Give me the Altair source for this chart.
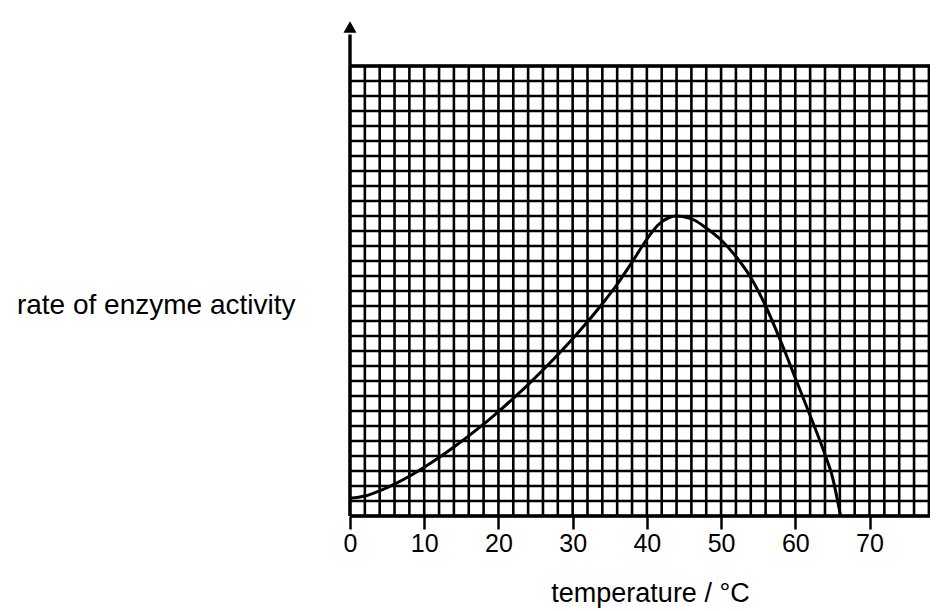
import altair as alt
import pandas as pd

# ---- data ----
temperature = [0, 2, 4, 6, 8, 10, 12, 14, 16, 18, 20, 22, 24, 26, 28, 30, 32, 34, 36, 38,
               40, 41.5, 43, 44, 45, 46.5, 48, 50, 52, 54, 56, 58, 60, 62, 64, 65, 66.1]
rate = [1.18, 1.33, 1.68, 2.13, 2.65, 3.25, 3.9, 4.6, 5.34, 6.12, 6.96, 7.84, 8.76, 9.73,
        10.75, 11.82, 12.95, 14.15, 15.45, 16.92, 18.45, 19.4, 19.9, 20.0, 19.95, 19.7, 19.2,
        18.4, 17.3, 15.9, 14.0, 11.7, 9.2, 6.7, 4.1, 2.6, 0.0]
x_tick_values = [0, 10, 20, 30, 40, 50, 60, 70]
x_grid_values = list(range(0, 79, 2))
y_grid_values = list(range(0, 31))
frame_y_values = [0, 30]

X_MAX = 78.15
Y_MAX = 33
GRID_TOP = 30
AXIS_TOP = 32.1
ARROW_Y = 32.6

FONT = "Liberation Sans"

xs = alt.Scale(domain=[0, X_MAX], nice=False, zero=False)
ys = alt.Scale(domain=[0, Y_MAX], nice=False, zero=False)

x_axis = alt.Axis(
    values=x_tick_values, format="d", tickSize=13, tickWidth=2.5, tickColor="black",
    labelFontSize=25, labelFont=FONT, labelColor="black", labelPadding=2,
    labelFlush=False, labelOverlap=False, domain=False, grid=False,
    title="temperature / °C", titleFont=FONT, titleFontSize=27, titleFontWeight="normal",
    titleColor="black", titleX=300, titleY=85, titleAlign="center",
    titleBaseline="alphabetic",
)
y_axis = alt.Axis(
    labels=False, ticks=False, domain=False, grid=False,
    title="rate of enzyme activity", titleFont=FONT, titleFontSize=28,
    titleFontWeight="normal", titleColor="black", titleAngle=0,
    titleX=-55, titleY=292, titleAlign="right", titleBaseline="alphabetic",
)

hgrid = pd.DataFrame({"y": y_grid_values, "x0": 0.0, "x1": X_MAX})
vgrid = pd.DataFrame({"x": x_grid_values, "y0": 0.0, "y1": float(GRID_TOP)})
frame = pd.DataFrame({"y": frame_y_values, "x0": 0.0, "x1": X_MAX})
curve = pd.DataFrame({"temperature": temperature, "rate": rate})
axis_line = pd.DataFrame({"x": [0.0], "y0": [0.0], "y1": [AXIS_TOP]})
arrow = pd.DataFrame({"x": [0.0], "y": [ARROW_Y]})

h_layer = alt.Chart(hgrid).mark_rule(color="black", strokeWidth=2.6).encode(
    x=alt.X("x0:Q", scale=xs, axis=x_axis),
    x2="x1:Q",
    y=alt.Y("y:Q", scale=ys, axis=y_axis),
)
v_layer = alt.Chart(vgrid).mark_rule(color="black", strokeWidth=2.6).encode(
    x=alt.X("x:Q", scale=xs, axis=x_axis),
    y=alt.Y("y0:Q", scale=ys, axis=y_axis),
    y2="y1:Q",
)
frame_layer = alt.Chart(frame).mark_rule(color="black", strokeWidth=3.4).encode(
    x=alt.X("x0:Q", scale=xs, axis=x_axis),
    x2="x1:Q",
    y=alt.Y("y:Q", scale=ys, axis=y_axis),
)
axis_layer = alt.Chart(axis_line).mark_rule(color="black", strokeWidth=3.4).encode(
    x=alt.X("x:Q", scale=xs, axis=x_axis),
    y=alt.Y("y0:Q", scale=ys, axis=y_axis),
    y2="y1:Q",
)
arrow_layer = alt.Chart(arrow).mark_point(
    shape="triangle-up", filled=True, color="black", size=170, opacity=1
).encode(
    x=alt.X("x:Q", scale=xs, axis=x_axis),
    y=alt.Y("y:Q", scale=ys, axis=y_axis),
)
curve_layer = alt.Chart(curve).mark_line(
    color="black", strokeWidth=3, interpolate="monotone"
).encode(
    x=alt.X("temperature:Q", scale=xs, axis=x_axis),
    y=alt.Y("rate:Q", scale=ys, axis=y_axis),
)

chart = alt.layer(
    h_layer, v_layer, frame_layer, axis_layer, arrow_layer, curve_layer
).properties(
    width=580,
    height=495,
    padding={"left": 342, "top": 13, "right": 0, "bottom": 94},
    autosize=alt.AutoSizeParams(type="none"),
    background="white",
).configure_view(stroke=None)

chart.save("out.html", embed_options={"renderer": "svg", "actions": False})
